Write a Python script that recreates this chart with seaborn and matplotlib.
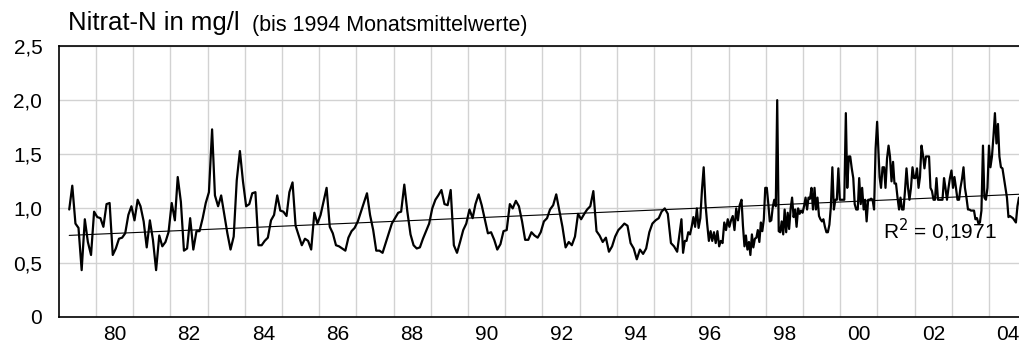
import numpy as np
import pandas as pd
import matplotlib
matplotlib.use("Agg")
import matplotlib.pyplot as plt
import seaborn as sns

# ---- data (Nitrat-N, mg/l) ----
# monthly means, from April 1979
monthly_start = "1979-04-01"
monthly_values = [
    0.99, 1.21, 0.86, 0.82, 0.43, 0.90, 0.69, 0.57, 0.97, 0.92, 0.91, 0.83, 1.04, 1.05, 0.57, 0.63,
    0.72, 0.73, 0.77, 0.94, 1.02, 0.89, 1.08, 1.02, 0.88, 0.64, 0.89, 0.71, 0.43, 0.75, 0.65, 0.69,
    0.78, 1.05, 0.89, 1.29, 1.06, 0.61, 0.63, 0.91, 0.62,
    0.79, 0.79, 0.91, 1.05, 1.15, 1.73, 1.12, 1.02, 1.12, 0.94, 0.77, 0.62, 0.74, 1.26, 1.53, 1.25,
    1.02, 1.04, 1.14, 1.15, 0.66, 0.66, 0.70, 0.73, 0.89, 0.94, 1.12, 0.98, 0.97, 0.93, 1.15, 1.24,
    0.84, 0.75, 0.66, 0.72, 0.70, 0.62, 0.96, 0.86, 0.94, 1.07, 1.19,
    0.83, 0.77, 0.66, 0.65, 0.63, 0.61, 0.73, 0.79, 0.82, 0.88, 0.97, 1.05, 1.14, 0.94, 0.80, 0.61,
    0.61, 0.59, 0.68, 0.77, 0.86, 0.91, 0.96, 0.97, 1.22, 0.97, 0.76, 0.66, 0.63, 0.64, 0.72, 0.79,
    0.86, 1.00, 1.08, 1.12, 1.17, 1.04, 1.03, 1.17, 0.66, 0.59, 0.69, 0.80, 0.86, 0.99,
    0.91, 1.04, 1.13, 1.03, 0.90, 0.77, 0.78, 0.71, 0.62, 0.67, 0.79, 0.80, 1.04, 1.00, 1.07, 1.02,
    0.88, 0.71, 0.71, 0.78, 0.75, 0.73, 0.78, 0.88, 0.91, 0.99, 1.03, 1.13, 0.98, 0.83, 0.64, 0.69,
    0.66, 0.74, 0.95, 0.90, 0.95, 0.99, 1.02, 1.16, 0.79, 0.75, 0.69, 0.73, 0.60,
    0.65, 0.74, 0.80, 0.83, 0.86, 0.84, 0.68, 0.63, 0.53, 0.62, 0.58, 0.63, 0.78, 0.86, 0.89, 0.91,
    0.97, 1.00, 0.95, 0.68, 0.65, 0.60,
]

# single measurements after 1995, three sampling periods
period_a = ("1995-09-26", "1997-04-20")
values_a = [
    0.90, 0.59, 0.70, 0.70, 0.78, 0.76, 0.83, 0.92, 0.83, 1.00, 0.82, 0.91, 1.17, 1.38, 1.05, 0.86,
    0.70, 0.79, 0.70, 0.78, 0.68, 0.79, 0.65, 0.70, 0.68, 0.87, 0.80, 0.90, 0.83, 0.89, 0.93, 0.80,
    1.00, 0.89, 1.03,
]
period_b = ("1997-05-08", "2000-12-28")
values_b = [
    1.08, 0.84, 0.65, 0.75, 0.62, 0.69, 0.57, 0.76, 0.64, 0.72, 0.73, 0.80, 0.69, 0.87, 0.79, 0.90,
    1.19, 1.19, 1.04, 0.88, 0.89, 1.01, 1.08, 1.02, 2.00, 0.79, 0.78, 0.88, 0.76, 0.99, 0.78, 0.96,
    0.81, 1.00, 1.10, 0.92, 0.99, 0.83, 1.00, 0.95, 0.98, 0.96, 1.02, 1.10, 0.99, 1.10, 1.09, 1.19,
    0.99, 1.19, 0.99, 1.10, 0.93, 0.90, 0.88, 0.90, 0.83, 0.78, 0.78, 0.85, 1.01, 1.38, 0.99, 1.08,
    1.08, 1.37, 1.08, 1.08, 1.08, 1.08, 1.88, 1.19, 1.48, 1.48, 1.37, 1.28, 1.04, 0.99, 0.99, 1.28,
    1.04, 1.19, 0.99, 1.08, 0.88, 1.08, 1.08, 1.09, 1.08, 0.99, 1.55, 1.80,
]
period_c = ("2001-01-22", "2004-10-20")
values_c = [
    1.29, 1.19, 1.38, 1.38, 1.19, 1.46, 1.58, 1.48, 1.25, 1.43, 1.23, 1.23, 1.10, 0.99, 1.10, 0.99,
    0.99, 1.16, 1.37, 1.19, 1.08, 1.19, 1.38, 1.28, 1.28, 1.37, 1.19, 1.29, 1.58, 1.49, 1.37, 1.48,
    1.48, 1.48, 1.19, 1.16, 1.08, 1.08, 1.28, 1.08, 1.08, 1.08, 1.08, 1.28, 1.19, 1.08, 1.19, 1.28,
    1.35, 1.19, 1.29, 1.19, 1.08, 1.08, 1.19, 1.27, 1.38, 1.19, 1.10, 0.99, 0.99, 0.98, 0.98, 0.98,
    0.90, 0.91, 0.86, 0.87, 0.98, 1.58, 1.10, 1.08, 1.19, 1.58, 1.38, 1.48, 1.67, 1.88, 1.60, 1.78,
    1.48, 1.38, 1.37, 1.28, 1.19, 1.10, 0.92, 0.93, 0.92, 0.91, 0.89, 0.87, 1.02, 1.10,
]

y_ticks = [0, 0.5, 1.0, 1.5, 2.0, 2.5]
y_labels = ["0", "0,5", "1,0", "1,5", "2,0", "2,5"]
x_label_years = list(range(1980, 2005, 2))
x_labels = ["80", "82", "84", "86", "88", "90", "92", "94", "96", "98", "00", "02", "04"]
grid_years = list(range(1980, 2005))
title = "Nitrat-N in mg/l"
subtitle = "(bis 1994 Monatsmittelwerte)"
r2_text = "R$^2$ = 0,1971"


def decimal_year(dates):
    d = pd.DatetimeIndex(dates)
    return d.year + (d.dayofyear - 1) / 365.25


monthly_dates = pd.date_range(monthly_start, periods=len(monthly_values), freq="MS") + pd.Timedelta(days=14)
dates_a = pd.date_range(*period_a, periods=len(values_a))
dates_b = pd.date_range(*period_b, periods=len(values_b))
dates_c = pd.date_range(*period_c, periods=len(values_c))

df = pd.DataFrame({
    "t": np.concatenate([decimal_year(monthly_dates), decimal_year(dates_a),
                         decimal_year(dates_b), decimal_year(dates_c)]),
    "v": monthly_values + values_a + values_b + values_c,
})

# ---- plot ----
sns.set_style("white")
plt.rcParams["font.family"] = ["Liberation Sans", "DejaVu Sans"]

W, H = 1020, 345
fig = plt.figure(figsize=(W / 100, H / 100), dpi=100)
x0, x1, ytop, ybot = 59, 1020, 46, 316.7
ax = fig.add_axes([x0 / W, (H - ybot) / H, (x1 - x0) / W, (ybot - ytop) / H])

sns.lineplot(data=df, x="t", y="v", ax=ax, color="black", linewidth=1.6,
             sort=False, estimator=None)
sns.regplot(data=df, x="t", y="v", ax=ax, scatter=False, ci=None, truncate=True,
            line_kws={"color": "black", "linewidth": 0.8})

ax.set_xlim(1979.01, 2004.83)
ax.set_ylim(0, 2.5)

ax.set_yticks(y_ticks)
ax.set_yticklabels(y_labels)
ax.set_xticks([y + 0.5 for y in x_label_years])
ax.set_xticklabels(x_labels)
ax.set_xticks(grid_years, minor=True)

ax.grid(False)
ax.grid(True, which="minor", axis="x", color="#d2d2d2", linewidth=1.0)
ax.grid(True, which="major", axis="y", color="#d2d2d2", linewidth=1.0)
ax.set_axisbelow(True)

ax.tick_params(axis="both", which="both", length=0, labelsize=15, colors="black")
ax.tick_params(axis="y", pad=12)
ax.tick_params(axis="x", pad=6)
ax.set_xlabel("")
ax.set_ylabel("")

for side in ["left", "bottom", "top"]:
    ax.spines[side].set_visible(True)
    ax.spines[side].set_color("black")
    ax.spines[side].set_linewidth(1.2)
ax.spines["right"].set_visible(False)

ax.text(2001.15, 0.72, r2_text, fontsize=15, color="black", ha="left", va="baseline")

fig.text(68 / W, (H - 30) / H, title, fontsize=18.5, color="black", ha="left", va="baseline")
fig.text(252 / W, (H - 31) / H, subtitle, fontsize=15.5, color="black", ha="left", va="baseline")

fig.savefig("out.png", dpi=100)
